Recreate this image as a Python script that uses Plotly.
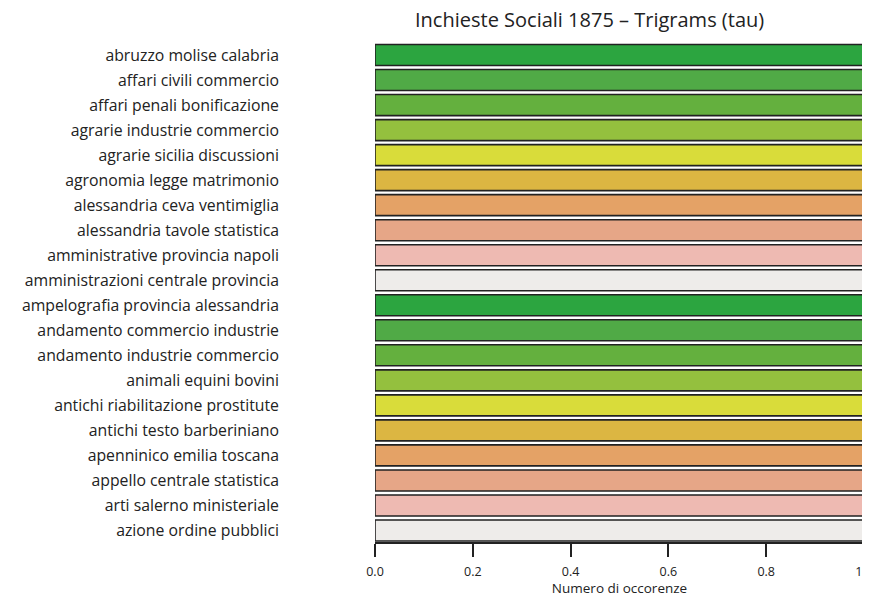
import plotly.graph_objects as go

categories = [
    "abruzzo molise calabria", "affari civili commercio", "affari penali bonificazione",
    "agrarie industrie commercio", "agrarie sicilia discussioni", "agronomia legge matrimonio",
    "alessandria ceva ventimiglia", "alessandria tavole statistica", "amministrative provincia napoli",
    "amministrazioni centrale provincia", "ampelografia provincia alessandria",
    "andamento commercio industrie", "andamento industrie commercio", "animali equini bovini",
    "antichi riabilitazione prostitute", "antichi testo barberiniano", "apenninico emilia toscana",
    "appello centrale statistica", "arti salerno ministeriale", "azione ordine pubblici",
]
values = [1.0] * 20
palette = ["#2ca540", "#50aa46", "#64b03e", "#94c03e", "#d9dc3a",
           "#dcb642", "#e4a266", "#e6a687", "#eebab2", "#eeecea"]
colors = [palette[i % 10] for i in range(len(categories))]
xticks = [0.0, 0.2, 0.4, 0.6, 0.8, 1.0]

# page body has an 8px margin; work in screenshot pixels and shift
OFF = 8
W, H = 870 - OFF, 597 - OFF
L = 375 - OFF
T = 40 - OFF
R = (870 - 864)
B = 597 - 542.5
plot_w = W - L - R
plot_h = H - T - B

fig = go.Figure(go.Bar(
    x=values, y=list(range(len(categories))), orientation="h",
    width=0.84, marker=dict(color=colors, line=dict(color="#222222", width=1.6)),
))

fig.update_layout(
    width=W, height=H,
    margin=dict(l=L, r=R, t=T, b=B, autoexpand=False),
    paper_bgcolor="white", plot_bgcolor="white",
    font=dict(family="Open Sans, sans-serif", color="#222222"),
    showlegend=False,
    annotations=[dict(text="Inchieste Sociali 1875 – Trigrams (tau)",
                      x=(589 - OFF - L) / plot_w, xref="paper",
                      y=(H - B - (19 - OFF)) / plot_h, yref="paper",
                      xanchor="center", yanchor="middle", borderpad=0,
                      showarrow=False, font=dict(size=20))],
)

fig.update_xaxes(
    range=[0, 1.0], tickvals=xticks, ticktext=["%.1f" % t for t in xticks],
    showgrid=False, zeroline=False, showline=True, linecolor="#222222", linewidth=1.5,
    ticks="outside", ticklen=13, tickwidth=1.5, tickcolor="#222222", automargin=False,
    tickfont=dict(size=12.5), ticklabelstandoff=4, ticklabeloverflow="allow",
    title=dict(text="Numero di occorenze", font=dict(size=13.5), standoff=0),
)
fig.update_yaxes(
    range=[19.46, -0.6], tickvals=list(range(len(categories))), ticktext=categories,
    showgrid=False, zeroline=False, showline=False, ticks="", automargin=False,
    tickfont=dict(size=15.8), ticklabelstandoff=95,
)

fig.write_html("out.html")
